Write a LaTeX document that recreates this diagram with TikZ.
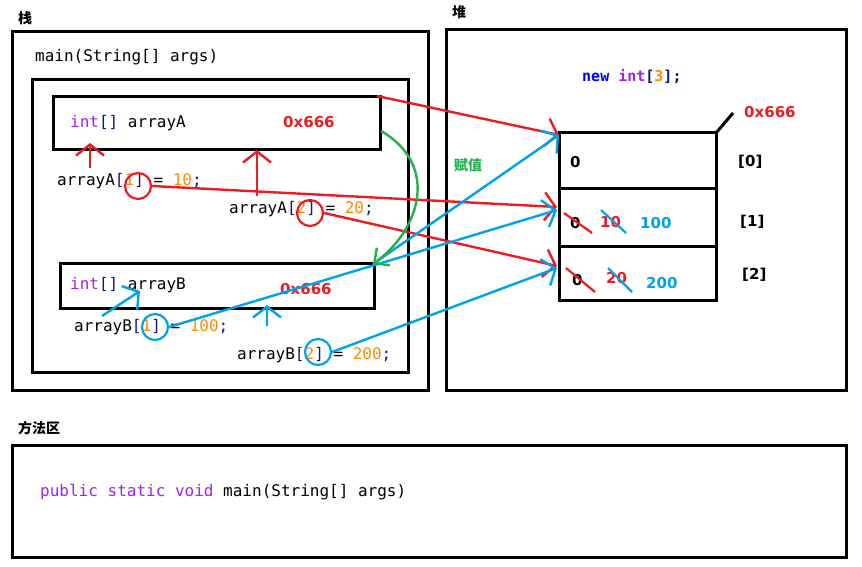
\documentclass[tikz,border=0pt]{standalone}
\usepackage{fontspec}
\setmonofont{DejaVu Sans Mono}
\setsansfont{DejaVu Sans}
\newfontfamily\cjk{Noto Sans CJK SC}
\usetikzlibrary{arrows.meta}
\definecolor{kw}{RGB}{160,32,240}
\definecolor{num}{RGB}{255,140,0}
\definecolor{brk}{RGB}{20,20,120}
\definecolor{pen}{RGB}{236,28,36}
\definecolor{bpen}{RGB}{0,162,232}
\definecolor{gpen}{RGB}{34,177,76}
\tikzset{
  box/.style={draw,line width=3pt},
  code/.style={anchor=west,font=\ttfamily\fontsize{16}{18}\selectfont,inner sep=0pt},
  addr/.style={anchor=west,font=\sffamily\bfseries\fontsize{15}{17}\selectfont,text=pen,inner sep=0pt},
  val/.style={anchor=west,font=\sffamily\bfseries\fontsize{15}{17}\selectfont,inner sep=0pt},
  title/.style={anchor=west,font=\cjk\bfseries\fontsize{14}{16}\selectfont,inner sep=0pt},
  rarr/.style={draw=pen,line width=2.4pt,-{Straight Barb[length=11pt,width=28pt]}},
  barr/.style={draw=bpen,line width=2.4pt,-{Straight Barb[length=11pt,width=28pt]}},
  ring/.style={draw,circle,line width=2.2pt,minimum size=26pt,inner sep=0pt},
  strike/.style={line width=2.2pt}
}
\newcommand{\br}[1]{\textcolor{brk}{[}\textcolor{num}{#1}\textcolor{brk}{]}}
\begin{document}
\begin{tikzpicture}[x=1pt,y=-1pt]
\useasboundingbox (0,0) rectangle (862,567);
% stack
\node[title] (stackT) at (18,18) {栈};
\draw[box] (12,32) rectangle (428,390);
\node[code] (mainT) at (35,57) {main(String[] args)};
\draw[box] (32,80) rectangle (408,372);
\draw[box] (53,97) rectangle (380,150);
\node[code] (declA) at (70,123) {\textcolor{kw}{int}\textcolor{brk}{[]} arrayA};
\node[addr] (addrA) at (283,122) {0x666};
\node[code] (setA1) at (57,181) {arrayA\br{1} = \textcolor{num}{10}\textcolor{brk}{;}};
\node[code] (setA2) at (229,209) {arrayA\br{2} = \textcolor{num}{20}\textcolor{brk}{;}};
\node[ring,draw=pen] (ringA1) at (138,186) {};
\node[ring,draw=pen] (ringA2) at (310,213) {};
\draw[box] (60,263) rectangle (374,308);
\coordinate (cornB) at (373,264);
\node[code] (declB) at (70,285) {\textcolor{kw}{int}\textcolor{brk}{[]} arrayB};
\node[addr] (addrB) at (280,289) {0x666};
\node[code] (setB1) at (74,327) {arrayB\br{1} = \textcolor{num}{100}\textcolor{brk}{;}};
\node[code] (setB2) at (237,355) {arrayB\br{2} = \textcolor{num}{200}\textcolor{brk}{;}};
\node[ring,draw=bpen] (ringB1) at (155,327) {};
\node[ring,draw=bpen] (ringB2) at (318,352) {};
% heap
\node[title] (heapT) at (452,12) {堆};
\draw[box] (446,30) rectangle (846,390);
\node[code,font=\ttfamily\bfseries\fontsize{15}{17}\selectfont] (newT) at (582,76) {\textcolor{blue}{new} \textcolor{kw}{int}\textcolor{brk}{[}\textcolor{num}{3}\textcolor{brk}{];}};
\draw[box] (559,133) rectangle (716,300);
\draw[line width=3pt] (559,188) -- (716,188) (559,246) -- (716,246);
\coordinate (cell0) at (559,135);
\coordinate (cell1) at (557,210);
\coordinate (cell2) at (557,266);
\draw[line width=3pt] (716,133) -- (733,113);
\node[addr] (addrH) at (744,112) {0x666};
\node[val] (idx0) at (738,162) {[0]};
\node[val] (idx1) at (740,222) {[1]};
\node[val] (idx2) at (742,275) {[2]};
\node[val] (v0) at (570,162) {0};
\node[val] (v10) at (570,223) {0};
\node[val,text=pen] (v11) at (600,222) {10};
\node[val,text=bpen] (v12) at (640,223) {100};
\node[val] (v20) at (572,280) {0};
\node[val,text=pen] (v21) at (606,278) {20};
\node[val,text=bpen] (v22) at (646,283) {200};
\draw[strike,pen] (564,213) -- (592,233) (566,268) -- (595,292);
\draw[strike,bpen] (601,210) -- (626,233) (608,268) -- (632,292);
\node[title,text=gpen] (assignT) at (454,165) {赋值};
% connectors
\draw[rarr] (377,96) -- (cell0);
\draw[rarr] (ringA1.east) -- (557,207);
\draw[rarr] (ringA2.east) -- (cell2);
\draw[rarr] (90,168) -- (90,143);
\draw[rarr] (257,196) -- (257,150);
\draw[barr] (ringB1.east) -- (cell1);
\draw[barr] (cornB) -- (cell0);
\draw[barr] (ringB2.east) -- (557,268);
\draw[barr] (267,326) -- (267,305);
\draw[barr] (102,316) -- (140,291);
\draw[gpen,line width=2.4pt,-{Straight Barb[length=11pt,width=22pt]}] (381,131) .. controls (440,165) and (420,230) .. (cornB);
% method area
\node[title] (methT) at (18,428) {方法区};
\draw[box] (12,445) rectangle (846,557);
\node[code] (sigT) at (40,492) {\textcolor{kw}{public static void} main(String[] args)};
\end{tikzpicture}
\end{document}
